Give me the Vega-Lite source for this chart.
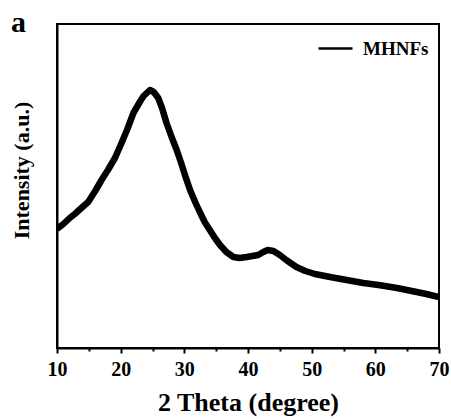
{
  "$schema": "https://vega.github.io/schema/vega-lite/v6.json",
  "autosize": "none",
  "width": 382,
  "height": 324,
  "padding": {"left": 57, "top": 24, "right": 12, "bottom": 71},
  "background": "white",
  "title": {"text": "a", "anchor": "start", "frame": "group", "orient": "top", "offset": 0, "baseline": "bottom", "dx": -46, "dy": 44, "font": "Liberation Serif", "fontSize": 30, "fontWeight": "bold", "color": "black"},
  "config": {
    "view": {"stroke": "black", "strokeWidth": 2},
    "axis": {"domainColor": "black", "domainWidth": 2, "tickColor": "black", "grid": false}
  },
  "data": {"values": [
    {"theta": 10.0, "y": 229, "s": "MHNFs"},
    {"theta": 11.0, "y": 224, "s": "MHNFs"},
    {"theta": 12.0, "y": 218, "s": "MHNFs"},
    {"theta": 12.8, "y": 214, "s": "MHNFs"},
    {"theta": 14.0, "y": 207, "s": "MHNFs"},
    {"theta": 14.9, "y": 202, "s": "MHNFs"},
    {"theta": 16.0, "y": 191, "s": "MHNFs"},
    {"theta": 17.0, "y": 180, "s": "MHNFs"},
    {"theta": 18.0, "y": 170, "s": "MHNFs"},
    {"theta": 19.1, "y": 158, "s": "MHNFs"},
    {"theta": 20.0, "y": 145, "s": "MHNFs"},
    {"theta": 21.0, "y": 130, "s": "MHNFs"},
    {"theta": 22.0, "y": 113, "s": "MHNFs"},
    {"theta": 23.0, "y": 102, "s": "MHNFs"},
    {"theta": 23.6, "y": 96, "s": "MHNFs"},
    {"theta": 24.6, "y": 90, "s": "MHNFs"},
    {"theta": 25.2, "y": 92, "s": "MHNFs"},
    {"theta": 25.9, "y": 98, "s": "MHNFs"},
    {"theta": 26.5, "y": 108, "s": "MHNFs"},
    {"theta": 27.2, "y": 123, "s": "MHNFs"},
    {"theta": 28.0, "y": 137, "s": "MHNFs"},
    {"theta": 28.8, "y": 150, "s": "MHNFs"},
    {"theta": 29.5, "y": 163, "s": "MHNFs"},
    {"theta": 30.2, "y": 177, "s": "MHNFs"},
    {"theta": 30.9, "y": 190, "s": "MHNFs"},
    {"theta": 31.7, "y": 202, "s": "MHNFs"},
    {"theta": 32.5, "y": 213, "s": "MHNFs"},
    {"theta": 33.2, "y": 222, "s": "MHNFs"},
    {"theta": 34.0, "y": 230, "s": "MHNFs"},
    {"theta": 34.8, "y": 238, "s": "MHNFs"},
    {"theta": 35.6, "y": 245, "s": "MHNFs"},
    {"theta": 36.6, "y": 252, "s": "MHNFs"},
    {"theta": 37.7, "y": 257, "s": "MHNFs"},
    {"theta": 38.7, "y": 258, "s": "MHNFs"},
    {"theta": 39.8, "y": 257, "s": "MHNFs"},
    {"theta": 40.7, "y": 256, "s": "MHNFs"},
    {"theta": 41.6, "y": 255, "s": "MHNFs"},
    {"theta": 42.4, "y": 252, "s": "MHNFs"},
    {"theta": 43.1, "y": 250, "s": "MHNFs"},
    {"theta": 44.0, "y": 251, "s": "MHNFs"},
    {"theta": 45.0, "y": 255, "s": "MHNFs"},
    {"theta": 46.0, "y": 260, "s": "MHNFs"},
    {"theta": 47.6, "y": 267, "s": "MHNFs"},
    {"theta": 49.0, "y": 271, "s": "MHNFs"},
    {"theta": 50.5, "y": 274, "s": "MHNFs"},
    {"theta": 52.9, "y": 277, "s": "MHNFs"},
    {"theta": 55.5, "y": 280, "s": "MHNFs"},
    {"theta": 58.1, "y": 283, "s": "MHNFs"},
    {"theta": 60.5, "y": 285, "s": "MHNFs"},
    {"theta": 63.4, "y": 288, "s": "MHNFs"},
    {"theta": 66.5, "y": 292, "s": "MHNFs"},
    {"theta": 68.0, "y": 294, "s": "MHNFs"},
    {"theta": 70.0, "y": 297, "s": "MHNFs"}
  ]},
  "mark": {"type": "line", "strokeWidth": 6.5, "strokeJoin": "round", "clip": true},
  "encoding": {
    "x": {"field": "theta", "type": "quantitative",
      "scale": {"domain": [10, 70], "nice": false, "zero": false},
      "axis": {"title": "2 Theta (degree)", "values": [10, 15, 20, 25, 30, 35, 40, 45, 50, 55, 60, 65, 70],
        "labelExpr": "datum.value % 10 === 0 ? datum.label : ''",
        "tickSize": {"condition": {"test": "datum.value % 10 === 0", "value": 5}, "value": 3},
        "tickWidth": 2, "labelFont": "Liberation Serif", "labelFontSize": 20, "labelFontWeight": "bold", "labelColor": "black",
        "labelPadding": 6, "labelFlush": false,
        "titleFont": "Liberation Serif", "titleFontSize": 26, "titleFontWeight": "bold", "titleColor": "black", "titlePadding": 10}},
    "y": {"field": "y", "type": "quantitative",
      "scale": {"domain": [348, 24], "nice": false, "zero": false},
      "axis": {"title": "Intensity (a.u.)", "labels": false, "ticks": false,
        "titleFont": "Liberation Serif", "titleFontSize": 22, "titleFontWeight": "bold", "titleColor": "black", "titlePadding": 24, "titleY": 146}},
    "color": {"field": "s", "type": "nominal", "scale": {"range": ["black"]},
      "legend": {"title": null, "orient": "none", "legendX": 260, "legendY": 6, "symbolType": "stroke", "symbolSize": 1156, "symbolStrokeWidth": 2.5,
        "labelFont": "Liberation Serif", "labelFontSize": 19, "labelFontWeight": "bold", "labelColor": "black", "labelOffset": 9}}
  }
}
